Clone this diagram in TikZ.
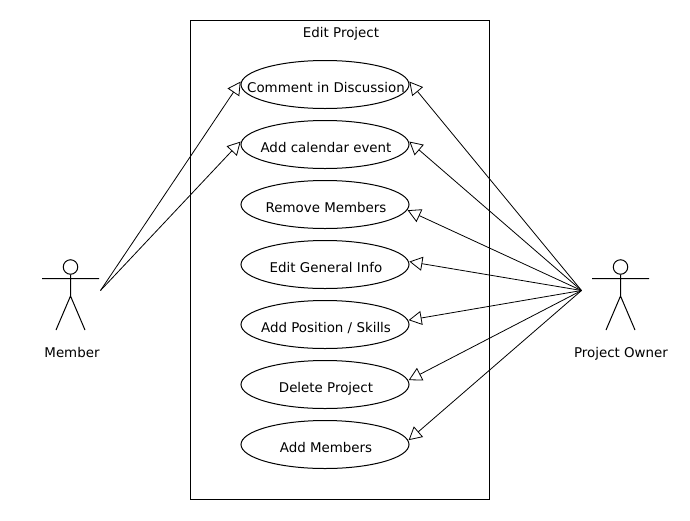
\documentclass[tikz,border=0pt]{standalone}
\usepackage{fontspec}
\setmainfont{DejaVu Sans}
\usetikzlibrary{shapes.geometric,arrows.meta}
\tikzset{
  usecase/.style={ellipse,draw=black,line width=1pt,minimum width=168pt,minimum height=48pt,inner sep=0pt,
    label={[lbl,xshift=1pt,yshift=-4pt]center:#1}},
  gen/.style={draw=black,line width=0.8pt,-{Triangle[open,length=13pt,width=14pt,line width=0.8pt]}},
  stick/.style={draw=black,line width=1pt},
  head/.style={circle,draw=black,line width=1pt,minimum size=14.5pt,inner sep=0pt},
  lbl/.style={inner sep=0pt,text height=10pt,text depth=3pt,font=\fontsize{13.4}{15}\selectfont},
}
\begin{document}
\begin{tikzpicture}[x=1pt,y=-1pt]
\useasboundingbox (0,0) rectangle (690,520);
\fill[white] (0,0) rectangle (690,520);
\node[draw=black,line width=1pt,minimum width=299pt,minimum height=478.5pt,inner sep=0pt,anchor=north west] (sys) at (190,20) {};
\node[lbl] (title) at (341,34) {Edit Project};
\node[usecase={Comment in Discussion}] (c1) at (325,84.5) {};
\node[usecase={Add calendar event}] (c2) at (325,144.5) {};
\node[usecase={Remove Members}] (c3) at (325,204.5) {};
\node[usecase={Edit General Info}] (c4) at (325,264.5) {};
\node[usecase={Add Position / Skills}] (c5) at (325,324.5) {};
\node[usecase={Delete Project}] (c6) at (325,384.5) {};
\node[usecase={Add Members}] (c7) at (325,444.5) {};
% Member actor
\node[head] (mh) at (70.5,267) {};
\coordinate (mb) at (70.5,296);
\coordinate (ml) at (42,278.5);
\coordinate (mr) at (99,278.5);
\coordinate (mf1) at (56,330);
\coordinate (mf2) at (85,330);
\draw[stick] (mh.south) -- (mb) (ml) -- (mr) (mf1) -- (mb) -- (mf2);
\node[lbl] (mlabel) at (72,354) {Member};
% Owner actor
\node[head] (oh) at (620.5,267) {};
\coordinate (ob) at (620.5,296);
\coordinate (ol) at (592,278.5);
\coordinate (or) at (649,278.5);
\coordinate (of1) at (606,330);
\coordinate (of2) at (635,330);
\draw[stick] (oh.south) -- (ob) (ol) -- (or) (of1) -- (ob) -- (of2);
\node[lbl] (olabel) at (621,354) {Project Owner};
% hubs
\coordinate (mhub) at (100.5,290.5);
\coordinate (ohub) at (581.5,290.5);
\draw[gen] (mhub) -- ([xshift=-0.5pt]c1.178);
\draw[gen] (mhub) -- ([xshift=-0.5pt]c2.178);
\draw[gen] (ohub) -- ([xshift=0.5pt]c1.2);
\draw[gen] (ohub) -- ([xshift=0.5pt]c2.2);
\draw[gen] (ohub) -- ([xshift=0.5pt]c3.-4);
\draw[gen] (ohub) -- ([xshift=0.5pt]c4.2);
\draw[gen] (ohub) -- ([xshift=0.5pt]c5.3);
\draw[gen] (ohub) -- ([xshift=0.5pt]c6.3);
\draw[gen] (ohub) -- ([xshift=0.5pt]c7.3);
\end{tikzpicture}
\end{document}
